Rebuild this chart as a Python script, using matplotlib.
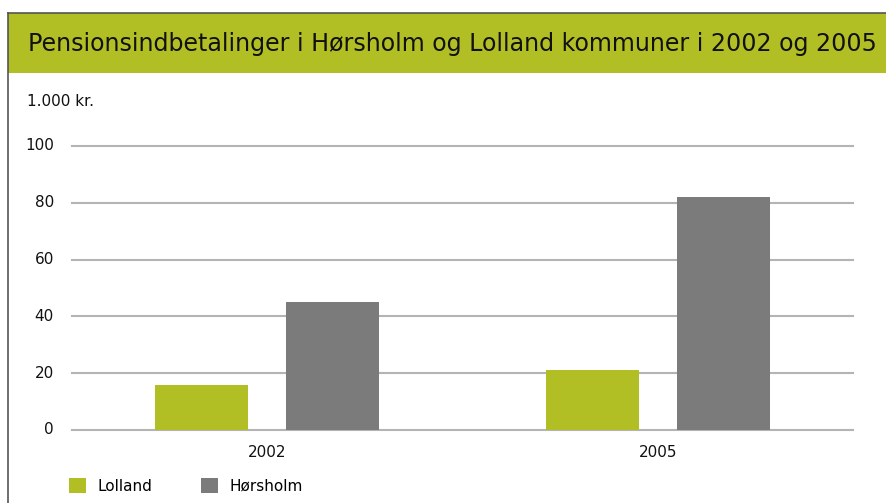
import numpy as np
import matplotlib.pyplot as plt
from matplotlib.patches import Rectangle
from matplotlib.lines import Line2D
from matplotlib.transforms import ScaledTranslation

years = ['2002', '2005']
lolland = [16, 21]
horsholm = [45, 82]
yticks = [0, 20, 40, 60, 80, 100]

green = '#b2bf24'
grey = '#7b7b7b'

W, H = 887, 503
plt.rcParams['font.family'] = ['DejaVu Sans']
fig = plt.figure(figsize=(W / 100, H / 100), dpi=100)

# title bar + frame
fig.patches.append(Rectangle((8 / W, 1 - 73 / H), 1, 60 / H, transform=fig.transFigure,
                             facecolor=green, edgecolor='none'))
fig.lines.append(Line2D([8 / W, 1], [1 - 13 / H, 1 - 13 / H], transform=fig.transFigure,
                        color='#555555', lw=1.2))
fig.lines.append(Line2D([8 / W, 8 / W], [0, 1 - 13 / H], transform=fig.transFigure,
                        color='#555555', lw=1.2))
fig.text(28 / W, 1 - 44 / H, 'Pensionsindbetalinger i Hørsholm og Lolland kommuner i 2002 og 2005',
         fontsize=17.1, va='center', ha='left', color='#111111')

ax = fig.add_axes([72 / W, 1 - 430 / H, (853 - 72) / W, (430 - 146) / H])
x = np.arange(len(years))
w = 0.238
ax.bar(x - 0.168, lolland, w, color=green, label='Lolland', zorder=3)
ax.bar(x + 0.168, horsholm, w, color=grey, label='Hørsholm', zorder=3)

ax.set_xlim(-0.5, 1.5)
ax.set_ylim(0, 100)
ax.set_yticks(yticks)
ax.set_yticklabels([str(v) for v in yticks], fontsize=11, va='center')
shift = ScaledTranslation(0, 4 / 100, fig.dpi_scale_trans)
for lab in ax.get_yticklabels():
    lab.set_transform(lab.get_transform() + shift)
ax.set_xticks(x)
ax.set_xticklabels(years, fontsize=11)
ax.tick_params(axis='both', length=0, colors='#111111')
ax.tick_params(axis='y', pad=13)
ax.tick_params(axis='x', pad=11)
ax.grid(axis='y', color='#b4b4b4', lw=1.5, zorder=0)
for gl in ax.get_ygridlines():
    gl.set_clip_on(False)
for s in ax.spines.values():
    s.set_visible(False)

fig.text(27 / W, 1 - 101 / H, '1.000 kr.', fontsize=11, va='center', ha='left', color='#111111')

fig.legend(loc='center left', bbox_to_anchor=(69 / W, 1 - 486 / H), ncol=2, frameon=False,
           fontsize=11, handlelength=1.1, handleheight=1.1, borderpad=0, borderaxespad=0,
           columnspacing=3.2, handletextpad=0.75)

fig.savefig('out.png', dpi=100)
